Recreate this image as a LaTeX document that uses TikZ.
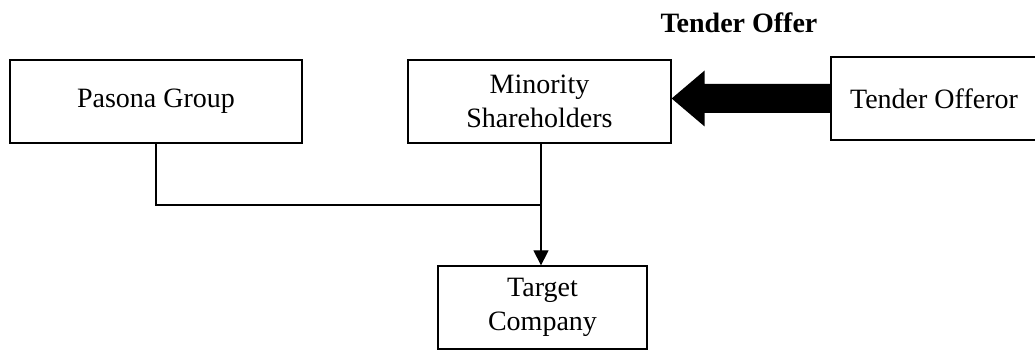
\documentclass[tikz,border=0pt]{standalone}
\usepackage{fontspec}
\setmainfont{Liberation Serif}
\usetikzlibrary{arrows.meta}
\begin{document}
\begin{tikzpicture}[x=1pt,y=-1pt,
  every node/.style={font=\fontsize{28}{33.5}\selectfont},
  box/.style={draw,line width=1.3pt,inner sep=0pt,align=center,minimum height=83pt},
  conn/.style={line width=1.3pt}]
\useasboundingbox (0,0) rectangle (1035,352);
\clip (0,0) rectangle (1035,352);
\node[box,minimum width=292pt] (pas) at (156,101.5) {Pasona Group};
\node[box,minimum width=263pt] (min) at (539.5,101.5) {Minority\\Shareholders};
\node[box,minimum width=206pt] (to) at (934,98.5) {Tender Offeror};
\node[box,minimum width=209pt] (tgt) at (542.5,307.5) {Target\\Company};
\node[font=\fontsize{28}{33.5}\selectfont\bfseries] (lbl) at (739,23) {Tender Offer};
\coordinate (j) at (541,205);
\draw[conn] (pas.south) |- (j);
\draw[conn,-{Triangle[width=15pt,length=15pt]}] (min.south -| j) -- (tgt.north -| j);
\coordinate (tip) at (min.east |- to.west);
\fill ([yshift=14.5pt]to.west) -- ([xshift=33pt,yshift=14.5pt]tip) -- ([xshift=33pt,yshift=28pt]tip) -- (tip) -- ([xshift=33pt,yshift=-28pt]tip) -- ([xshift=33pt,yshift=-14.5pt]tip) -- ([yshift=-14.5pt]to.west) -- cycle;
\end{tikzpicture}
\end{document}
